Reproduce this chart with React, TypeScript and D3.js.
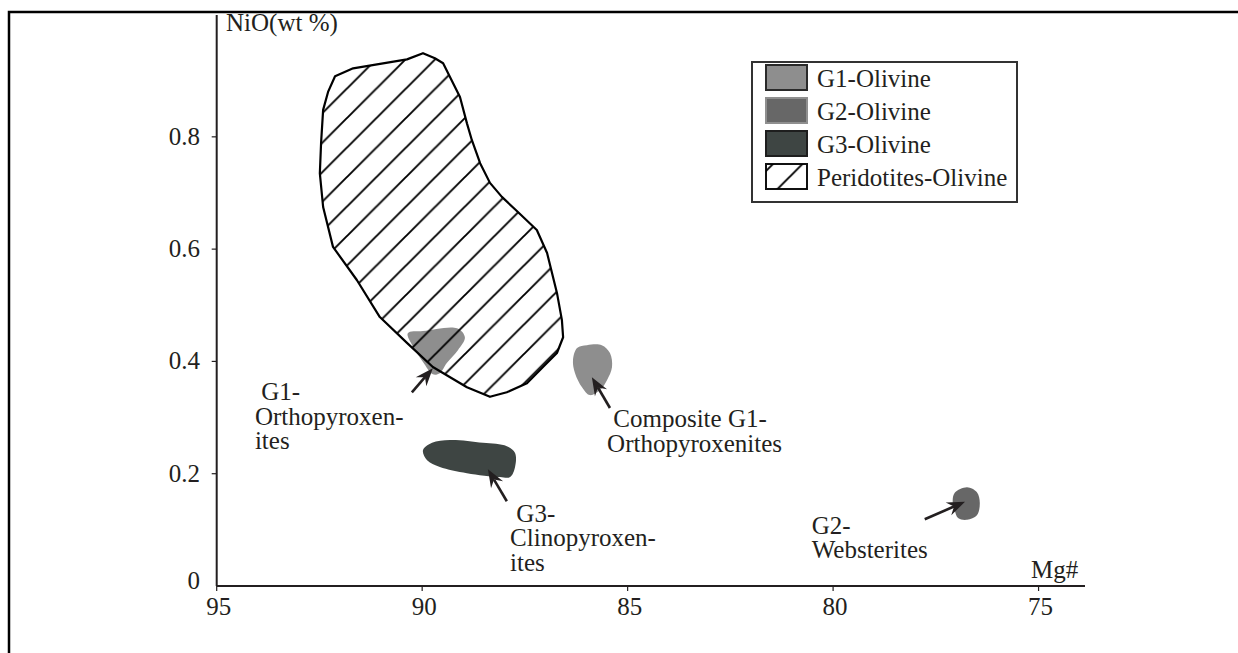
import { useEffect, useRef } from 'react';
import * as d3 from 'd3';

const WIDTH = 1238;
const HEIGHT = 653;
const FONT = "'Liberation Serif', 'Times New Roman', serif";

// Axis ticks
const X_TICKS = [95, 90, 85, 80, 75];
const Y_TICKS = [0, 0.2, 0.4, 0.6, 0.8];

// Field outlines, [Mg#, NiO wt%]
const PERIDOTITE_OLIVINE: [number, number][] = [
  [92.12, 0.908], [91.68, 0.922], [90.37, 0.938], [89.98, 0.949], [89.69, 0.94],
  [89.49, 0.931], [89.32, 0.906], [89.08, 0.871], [88.91, 0.824], [88.79, 0.794],
  [88.59, 0.753], [88.35, 0.718], [88.06, 0.693], [87.67, 0.666], [87.21, 0.634],
  [86.96, 0.593], [86.72, 0.522], [86.6, 0.474], [86.57, 0.443], [86.72, 0.415],
  [87.06, 0.39], [87.45, 0.361], [87.94, 0.345], [88.35, 0.337], [88.91, 0.354],
  [89.74, 0.39], [90.37, 0.433], [91.03, 0.479], [91.59, 0.545], [92.17, 0.604],
  [92.41, 0.675], [92.49, 0.735], [92.46, 0.789], [92.41, 0.848], [92.29, 0.88],
];

const G1_ORTHOPYROXENITES: [number, number][] = [
  [90.35, 0.45], [89.98, 0.454], [89.15, 0.459], [88.96, 0.443], [89.13, 0.42],
  [89.4, 0.397], [89.57, 0.379], [89.74, 0.377], [89.98, 0.399], [90.22, 0.426],
];

const G1_COMPOSITE: [number, number][] = [
  [86.23, 0.424], [85.99, 0.429], [85.63, 0.429], [85.43, 0.415], [85.38, 0.39],
  [85.5, 0.367], [85.67, 0.349], [85.92, 0.34], [86.11, 0.354], [86.28, 0.379],
  [86.33, 0.402],
];

const G3_CLINOPYROXENITES: [number, number][] = [
  [89.98, 0.242], [89.76, 0.255], [89.32, 0.26], [88.52, 0.255], [87.94, 0.249],
  [87.74, 0.237], [87.74, 0.212], [87.86, 0.194], [88.11, 0.194], [88.91, 0.201],
  [89.57, 0.212], [89.88, 0.224],
];

const G2_WEBSTERITES: [number, number][] = [
  [77.04, 0.166], [76.74, 0.176], [76.5, 0.167], [76.43, 0.148], [76.5, 0.126],
  [76.74, 0.118], [76.96, 0.121], [77.04, 0.135], [77.09, 0.15],
];

// Arrows: [tail, tip]
const ARROWS: [[number, number], [number, number]][] = [
  [[90.25, 0.345], [89.74, 0.388]],
  [[85.43, 0.317], [85.87, 0.372]],
  [[87.94, 0.151], [88.4, 0.208]],
  [[77.77, 0.119], [76.79, 0.15]],
];

// Annotations: anchor [Mg#, NiO] and text lines
const LABEL_ANCHORS: [number, number][] = [
  [94.07, 0.331],
  [85.5, 0.283],
  [87.86, 0.114],
  [80.52, 0.093],
];
const LABEL_LINES: string[][] = [
  [' G1-', 'Orthopyroxen-', 'ites'],
  [' Composite G1-', 'Orthopyroxenites'],
  [' G3-', 'Clinopyroxen-', 'ites'],
  ['G2-', 'Websterites'],
];

const LEGEND_ITEMS = ['G1-Olivine', 'G2-Olivine', 'G3-Olivine', 'Peridotites-Olivine'];

const G1_COLOR = '#8e8e8e';
const G2_COLOR = '#676767';
const G3_COLOR = '#3e4543';
const INK = '#231f20';

export default function App() {
  const svgRef = useRef<SVGSVGElement>(null);

  useEffect(() => {
    if (!svgRef.current) return;
    const svg = d3.select(svgRef.current);
    svg.selectAll('*').remove();

    const x = d3.scaleLinear().domain([95, 73.87]).range([216.7, 1085]);
    const y = d3.scaleLinear().domain([0, 1.017]).range([586, 15]);

    // hatch pattern (/ lines)
    const s = 29.5;
    const defs = svg.append('defs');
    const pat = defs.append('pattern')
      .attr('id', 'hatch')
      .attr('patternUnits', 'userSpaceOnUse')
      .attr('x', 22.5)
      .attr('y', 0)
      .attr('width', s)
      .attr('height', s);
    pat.append('path')
      .attr('d', `M0,${s} L${s},0 M${-s / 4},${s / 4} L${s / 4},${-s / 4} M${(3 * s) / 4},${(5 * s) / 4} L${(5 * s) / 4},${(3 * s) / 4}`)
      .attr('stroke', '#000')
      .attr('stroke-width', 1.9);

    svg.append('rect')
      .attr('width', WIDTH).attr('height', HEIGHT).attr('fill', '#fff');

    // outer frame
    svg.append('rect')
      .attr('x', 9).attr('y', 12)
      .attr('width', 1300).attr('height', 800)
      .attr('fill', 'none')
      .attr('stroke', '#000')
      .attr('stroke-width', 2.5);

    // ===== fields =====
    const blob = d3.line<[number, number]>()
      .x(d => x(d[0]))
      .y(d => y(d[1]))
      .curve(d3.curveCatmullRomClosed.alpha(0.5));

    const poly = d3.line<[number, number]>()
      .x(d => x(d[0]))
      .y(d => y(d[1]))
      .curve(d3.curveLinearClosed);

    const fields = svg.append('g');
    fields.append('path').attr('d', blob(G1_ORTHOPYROXENITES)).attr('fill', G1_COLOR);
    fields.append('path').attr('d', blob(G1_COMPOSITE)).attr('fill', G1_COLOR);
    fields.append('path').attr('d', blob(G3_CLINOPYROXENITES)).attr('fill', G3_COLOR);
    fields.append('path').attr('d', blob(G2_WEBSTERITES)).attr('fill', G2_COLOR);

    fields.append('path')
      .attr('d', poly(PERIDOTITE_OLIVINE))
      .attr('fill', 'url(#hatch)')
      .attr('stroke', '#000')
      .attr('stroke-width', 2.2)
      .attr('stroke-linejoin', 'round');

    // ===== arrows =====
    const arrows = svg.append('g');
    ARROWS.forEach(([tail, tip]) => {
      const x0 = x(tail[0]), y0 = y(tail[1]);
      const x1 = x(tip[0]), y1 = y(tip[1]);
      const len = Math.hypot(x1 - x0, y1 - y0);
      const ux = (x1 - x0) / len, uy = (y1 - y0) / len;
      const px = -uy, py = ux;
      const headLen = 18, headW = 7, notch = 12;
      const bx = x1 - ux * headLen, by = y1 - uy * headLen;
      const nx = x1 - ux * notch, ny = y1 - uy * notch;
      arrows.append('line')
        .attr('x1', x0).attr('y1', y0)
        .attr('x2', nx).attr('y2', ny)
        .attr('stroke', INK)
        .attr('stroke-width', 2.6);
      arrows.append('path')
        .attr('d', `M${x1},${y1} L${bx + px * headW},${by + py * headW} L${nx},${ny} L${bx - px * headW},${by - py * headW} Z`)
        .attr('fill', INK);
    });

    // ===== axes =====
    const axes = svg.append('g').attr('stroke', INK).attr('stroke-width', 2);
    axes.append('line')
      .attr('x1', x(95)).attr('x2', x(73.87))
      .attr('y1', y(0)).attr('y2', y(0));
    axes.append('line')
      .attr('x1', x(95)).attr('x2', x(95))
      .attr('y1', y(0)).attr('y2', y(1.017));

    axes.selectAll('line.xt')
      .data(X_TICKS)
      .join('line')
      .attr('class', 'xt')
      .attr('x1', d => x(d)).attr('x2', d => x(d))
      .attr('y1', y(0)).attr('y2', y(0) + 5)
      .attr('stroke-width', 1.2);

    axes.selectAll('line.yt')
      .data(Y_TICKS.filter(d => d > 0))
      .join('line')
      .attr('class', 'yt')
      .attr('x1', x(95) - 5).attr('x2', x(95))
      .attr('y1', d => y(d)).attr('y2', d => y(d))
      .attr('stroke-width', 1.2);

    const text = svg.append('g')
      .style('font-family', FONT)
      .attr('font-size', 25)
      .attr('fill', INK);

    text.selectAll('text.xl')
      .data(X_TICKS)
      .join('text')
      .attr('class', 'xl')
      .attr('x', d => x(d) + 2)
      .attr('y', 615)
      .attr('text-anchor', 'middle')
      .text(d => d);

    text.selectAll('text.yl')
      .data(Y_TICKS)
      .join('text')
      .attr('class', 'yl')
      .attr('x', 200)
      .attr('y', d => y(d) + (d === 0 ? 3 : 8))
      .attr('text-anchor', 'end')
      .text(d => (d === 0 ? '0' : d.toFixed(1)));

    text.append('text').attr('x', 226).attr('y', 31).text('NiO(wt %)');
    text.append('text').attr('x', 1031).attr('y', 578).text('Mg#');

    // ===== annotations =====
    LABEL_LINES.forEach((lines, i) => {
      const [m, n] = LABEL_ANCHORS[i];
      const t = text.append('text')
        .attr('x', x(m))
        .attr('y', y(n))
        .style('white-space', 'pre');
      lines.forEach((ln, j) => {
        t.append('tspan')
          .attr('x', x(m))
          .attr('dy', j === 0 ? 0 : 24.5)
          .text(ln);
      });
    });

    // ===== legend =====
    const legend = svg.append('g');
    legend.append('rect')
      .attr('x', 752).attr('y', 62)
      .attr('width', 265).attr('height', 140)
      .attr('fill', '#fff')
      .attr('stroke', '#333')
      .attr('stroke-width', 2);

    const swFill = [G1_COLOR, G2_COLOR, G3_COLOR, '#fff'];
    const swStroke = ['#2a2a2a', '#8f8f8f', '#1e1e1e', '#111'];
    legend.selectAll('rect.sw')
      .data(LEGEND_ITEMS)
      .join('rect')
      .attr('class', 'sw')
      .attr('x', 766)
      .attr('y', (_, i) => 65 + i * 33)
      .attr('width', 41)
      .attr('height', 25)
      .attr('fill', (_, i) => swFill[i])
      .attr('stroke', (_, i) => swStroke[i])
      .attr('stroke-width', 2);

    legend.append('rect')
      .attr('x', 766).attr('y', 65 + 3 * 33)
      .attr('width', 41).attr('height', 25)
      .attr('fill', 'url(#hatch)');

    legend.selectAll('text.lt')
      .data(LEGEND_ITEMS)
      .join('text')
      .attr('class', 'lt')
      .attr('x', 817)
      .attr('y', (_, i) => 87 + i * 33)
      .style('font-family', FONT)
      .attr('font-size', 25)
      .attr('fill', INK)
      .text(d => d);
  }, []);

  return (
    <svg
      ref={svgRef}
      width={WIDTH}
      height={HEIGHT}
      viewBox={`0 0 ${WIDTH} ${HEIGHT}`}
      style={{ position: 'absolute', left: 0, top: 0, display: 'block' }}
    />
  );
}
